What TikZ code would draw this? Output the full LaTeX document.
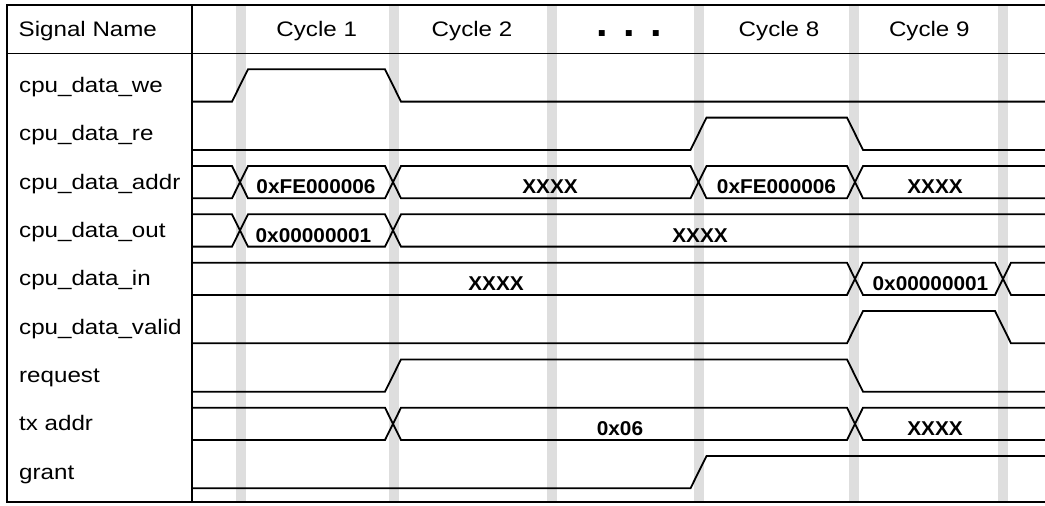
\documentclass[tikz,border=0pt]{standalone}
\usepackage{fontspec}
\setmainfont{Liberation Sans}
\newfontfamily\labfont[FakeStretch=1.15]{Liberation Sans}
\newfontfamily\valfont[FakeStretch=1.04]{Liberation Sans}
\begin{document}
\begin{tikzpicture}[x=1pt,y=-1pt,
  lab/.style={inner sep=0pt,anchor=base west,font=\labfont\fontsize{21}{25}\selectfont},
  hdr/.style={inner sep=0pt,anchor=base,font=\labfont\fontsize{21}{25}\selectfont},
  val/.style={inner sep=0pt,anchor=base,font=\valfont\bfseries\fontsize{20}{24}\selectfont},
  dots/.style={inner sep=0pt,anchor=base,font=\valfont\bfseries\fontsize{40}{44}\selectfont},
  wave/.style={line width=1.8pt,line join=miter},
  gbar/.style={fill=black!13,draw=none},
  outer/.style={line width=2.3pt,line join=miter},
  inner/.style={line width=1.1pt}]
\useasboundingbox (0,0) rectangle (1045,506);
% cycle boundary bars
\foreach \x in {240.8,394,551.7,699,854.3,1002.5}
  \fill[gbar] (\x-5,5) rectangle (\x+5,502);
% frame
\draw[outer] (1045,5) -- (7,5) -- (7,502) -- (1045,502);
\draw[inner] (7,53.3) -- (1045,53.3);
\draw[inner] (192,5) -- (192,502);
% header
\node[lab] (hname) at (18.5,36.5) {Signal Name};
\node[hdr] (c1) at (316.7,36) {Cycle 1};
\node[hdr] (c2) at (472,36) {Cycle 2};
\node[dots] (cdots) at (629,36) {. . .};
\node[hdr] (c8) at (779,36) {Cycle 8};
\node[hdr] (c9) at (929.3,36) {Cycle 9};
% signal names
\node[lab] (s1) at (19,92.5) {cpu\_data\_we};
\node[lab] (s2) at (19,140.8) {cpu\_data\_re};
\node[lab] (s3) at (19,189.2) {cpu\_data\_addr};
\node[lab] (s4) at (19,237.5) {cpu\_data\_out};
\node[lab] (s5) at (19,285.9) {cpu\_data\_in};
\node[lab] (s6) at (19,334.2) {cpu\_data\_valid};
\node[lab] (s7) at (19,382.5) {request};
\node[lab] (s8) at (19,430.9) {tx addr};
\node[lab] (s9) at (19,479.2) {grant};
% cpu_data_we
\draw[wave] (192,101.6) -- (232,101.6) -- (248,69.3) -- (385,69.3) -- (401,101.6) -- (1045,101.6);
% cpu_data_re
\draw[wave] (192,149.9) -- (690.5,149.9) -- (706.5,117.6) -- (847,117.6) -- (863,149.9) -- (1045,149.9);
% cpu_data_addr
\draw[wave] (192,166) -- (232,166) -- (248,198.3) -- (385,198.3) -- (401,166) -- (690.5,166) -- (706.5,198.3) -- (847,198.3) -- (863,166) -- (1045,166);
\draw[wave] (192,198.3) -- (232,198.3) -- (248,166) -- (385,166) -- (401,198.3) -- (690.5,198.3) -- (706.5,166) -- (847,166) -- (863,198.3) -- (1045,198.3);
% cpu_data_out
\draw[wave] (192,214.3) -- (232,214.3) -- (248,246.6) -- (385,246.6) -- (401,214.3) -- (1045,214.3);
\draw[wave] (192,246.6) -- (232,246.6) -- (248,214.3) -- (385,214.3) -- (401,246.6) -- (1045,246.6);
% cpu_data_in
\draw[wave] (192,262.7) -- (847,262.7) -- (863,295) -- (995,295) -- (1011,262.7) -- (1045,262.7);
\draw[wave] (192,295) -- (847,295) -- (863,262.7) -- (995,262.7) -- (1011,295) -- (1045,295);
% cpu_data_valid
\draw[wave] (192,343.3) -- (847,343.3) -- (863,311) -- (995,311) -- (1011,343.3) -- (1045,343.3);
% request
\draw[wave] (192,391.7) -- (385,391.7) -- (401,359.4) -- (847,359.4) -- (863,391.7) -- (1045,391.7);
% tx addr
\draw[wave] (192,407.7) -- (385,407.7) -- (401,440) -- (847,440) -- (863,407.7) -- (1045,407.7);
\draw[wave] (192,440) -- (385,440) -- (401,407.7) -- (847,407.7) -- (863,440) -- (1045,440);
% grant
\draw[wave] (192,488.3) -- (690.5,488.3) -- (706.5,456) -- (1045,456);
% values
\node[val] (a1) at (316,193.8) {0xFE000006};
\node[val] (a2) at (550,193.8) {XXXX};
\node[val] (a3) at (776.5,193.8) {0xFE000006};
\node[val] (a4) at (935,193.8) {XXXX};
\node[val] (o1) at (313.5,242.1) {0x00000001};
\node[val] (o2) at (700,242.1) {XXXX};
\node[val] (i1) at (496,290.5) {XXXX};
\node[val] (i2) at (930.5,290.5) {0x00000001};
\node[val] (t1) at (620,435.5) {0x06};
\node[val] (t2) at (935,435.5) {XXXX};
\end{tikzpicture}
\end{document}
